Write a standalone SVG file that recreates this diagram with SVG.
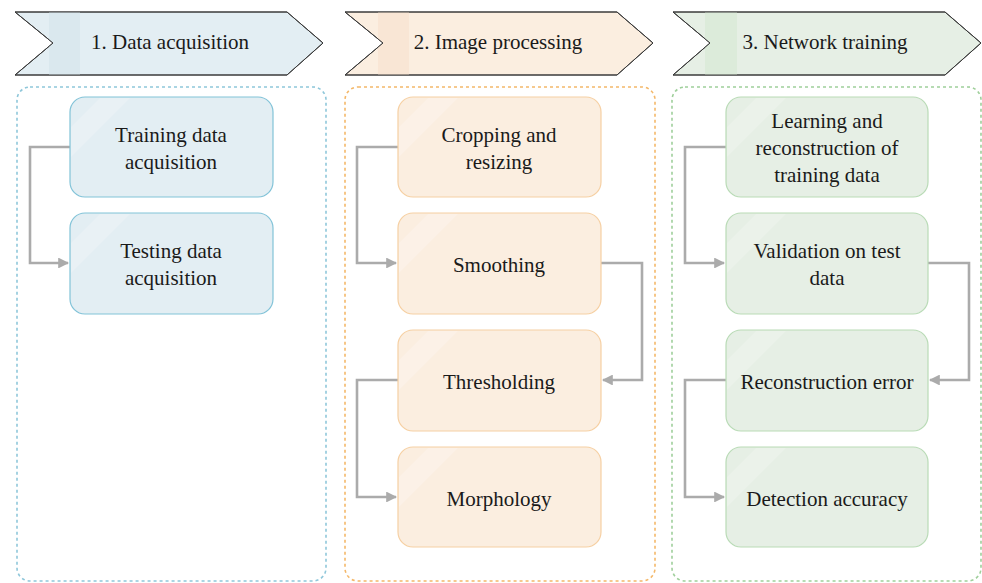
<svg xmlns="http://www.w3.org/2000/svg" width="982" height="583" viewBox="0 0 982 583">
  <defs>
    <style>
      .t { font-family: "Liberation Serif", "Times New Roman", serif; font-size: 21px; fill: #1a1a1a; text-anchor: middle; }
      .banner { stroke: #3a3a3a; stroke-width: 1; }
      .frame { fill: none; stroke-width: 1.6; stroke-dasharray: 3 3; }
      .box { stroke-width: 1.2; }
      .gloss { fill: #ffffff; opacity: 0.22; }
      .link { fill: none; stroke: #ababab; stroke-width: 2.6; }
      .blue .box { fill: #e3eef3; stroke: #82c3d8; }
      .orange .box { fill: #fbeee0; stroke: #f6d0a3; }
      .green .box { fill: #e6efe5; stroke: #b9dbb6; }
    </style>
    <marker id="arr" viewBox="0 0 10 10" refX="9" refY="5" markerWidth="4.2" markerHeight="4.2" orient="auto" markerUnits="strokeWidth">
      <path d="M0,0 L10,5 L0,10 z" fill="#ababab"/>
    </marker>
    <clipPath id="cb1"><polygon points="15,12 287,12 323,43 287,75 15,75 53,43"/></clipPath>
    <clipPath id="cb2"><polygon points="345,12 617,12 653,43 617,75 345,75 383,43"/></clipPath>
    <clipPath id="cb3"><polygon points="673,12 945,12 981,43 945,75 673,75 710,43"/></clipPath>
  </defs>

  <!-- stage banners -->
  <g id="stage1">
    <polygon class="banner" points="15,12 287,12 323,43 287,75 15,75 53,43" fill="#e3eef3"/>
    <rect x="49" y="12" width="31" height="63" fill="#dae8ee" clip-path="url(#cb1)"/>
    <polygon points="15,12 287,12 323,43 287,75 15,75 53,43" fill="none" stroke="#3a3a3a" stroke-width="1"/>
    <text class="t" x="170" y="49">1. Data acquisition</text>
  </g>
  <g id="stage2">
    <polygon class="banner" points="345,12 617,12 653,43 617,75 345,75 383,43" fill="#fbeee0"/>
    <rect x="378" y="12" width="31" height="63" fill="#f9e6d5" clip-path="url(#cb2)"/>
    <polygon points="345,12 617,12 653,43 617,75 345,75 383,43" fill="none" stroke="#3a3a3a" stroke-width="1"/>
    <text class="t" x="498" y="49">2. Image processing</text>
  </g>
  <g id="stage3">
    <polygon class="banner" points="673,12 945,12 981,43 945,75 673,75 710,43" fill="#e6efe5"/>
    <rect x="705" y="12" width="32" height="63" fill="#dcebda" clip-path="url(#cb3)"/>
    <polygon points="673,12 945,12 981,43 945,75 673,75 710,43" fill="none" stroke="#3a3a3a" stroke-width="1"/>
    <text class="t" x="825" y="49">3. Network training</text>
  </g>

  <!-- dashed stage frames -->
  <g id="frames">
    <rect class="frame" x="17" y="87" width="309" height="494" rx="13" stroke="#8fc7da"/>
    <rect class="frame" x="345" y="87" width="310" height="494" rx="13" stroke="#f4b86a"/>
    <rect class="frame" x="672" y="87" width="309" height="494" rx="13" stroke="#9fcf9b"/>
  </g>

  <!-- connectors -->
  <g id="connectors">
    <polyline class="link" points="70,147 30,147 30,263 68,263" marker-end="url(#arr)"/>
    <polyline class="link" points="398,147 357,147 357,263 396,263" marker-end="url(#arr)"/>
    <polyline class="link" points="601,263 642,263 642,380 603,380" marker-end="url(#arr)"/>
    <polyline class="link" points="398,380 357,380 357,497 396,497" marker-end="url(#arr)"/>
    <polyline class="link" points="726,147 685,147 685,263 724,263" marker-end="url(#arr)"/>
    <polyline class="link" points="928,263 969,263 969,380 930,380" marker-end="url(#arr)"/>
    <polyline class="link" points="726,380 685,380 685,497 724,497" marker-end="url(#arr)"/>
  </g>

  <!-- stage 1 nodes -->
  <g class="blue">
    <g id="training-acq">
      <rect class="box" x="70" y="97" width="203" height="100" rx="15"/>
      <polygon class="gloss" points="100,98 130,98 71,157 71,127"/>
      <text class="t" x="171" y="142">Training data</text>
      <text class="t" x="171" y="169">acquisition</text>
    </g>
    <g id="testing-acq">
      <rect class="box" x="70" y="213" width="203" height="101" rx="15"/>
      <polygon class="gloss" points="100,214 130,214 71,273 71,243"/>
      <text class="t" x="171" y="258">Testing data</text>
      <text class="t" x="171" y="285">acquisition</text>
    </g>
  </g>

  <!-- stage 2 nodes -->
  <g class="orange">
    <g id="cropping">
      <rect class="box" x="398" y="97" width="203" height="100" rx="15"/>
      <polygon class="gloss" points="428,98 458,98 399,157 399,127"/>
      <text class="t" x="499" y="142">Cropping and</text>
      <text class="t" x="499" y="169">resizing</text>
    </g>
    <g id="smoothing">
      <rect class="box" x="398" y="213" width="203" height="101" rx="15"/>
      <polygon class="gloss" points="428,214 458,214 399,273 399,243"/>
      <text class="t" x="499" y="272">Smoothing</text>
    </g>
    <g id="thresholding">
      <rect class="box" x="398" y="330" width="203" height="101" rx="15"/>
      <polygon class="gloss" points="428,331 458,331 399,390 399,360"/>
      <text class="t" x="499" y="389">Thresholding</text>
    </g>
    <g id="morphology">
      <rect class="box" x="398" y="447" width="203" height="100" rx="15"/>
      <polygon class="gloss" points="428,448 458,448 399,507 399,477"/>
      <text class="t" x="499" y="506">Morphology</text>
    </g>
  </g>

  <!-- stage 3 nodes -->
  <g class="green">
    <g id="learning">
      <rect class="box" x="726" y="97" width="202" height="100" rx="15"/>
      <polygon class="gloss" points="756,98 786,98 727,157 727,127"/>
      <text class="t" x="827" y="128">Learning and</text>
      <text class="t" x="827" y="155">reconstruction of</text>
      <text class="t" x="827" y="182">training data</text>
    </g>
    <g id="validation">
      <rect class="box" x="726" y="213" width="202" height="101" rx="15"/>
      <polygon class="gloss" points="756,214 786,214 727,273 727,243"/>
      <text class="t" x="827" y="258">Validation on test</text>
      <text class="t" x="827" y="285">data</text>
    </g>
    <g id="recon-error">
      <rect class="box" x="726" y="330" width="202" height="101" rx="15"/>
      <polygon class="gloss" points="756,331 786,331 727,390 727,360"/>
      <text class="t" x="827" y="389">Reconstruction error</text>
    </g>
    <g id="detection">
      <rect class="box" x="726" y="447" width="202" height="100" rx="15"/>
      <polygon class="gloss" points="756,448 786,448 727,507 727,477"/>
      <text class="t" x="827" y="506">Detection accuracy</text>
    </g>
  </g>
</svg>
